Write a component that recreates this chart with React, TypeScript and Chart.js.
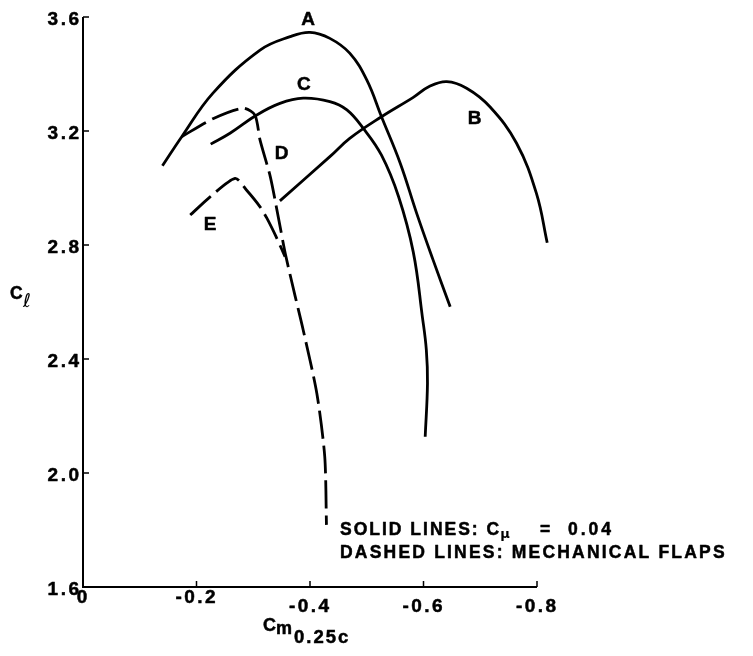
import React, { useEffect, useRef } from "react";
import { Chart, registerables } from "chart.js";

Chart.register(...registerables);

// Axis ticks
const xTickValues = [0, -0.2, -0.4, -0.6, -0.8];
const xTickLabels = ["0", "-0.2", "-0.4", "-0.6", "-0.8"];
const yTickValues = [1.6, 2.0, 2.4, 2.8, 3.2, 3.6];
const yTickLabels = ["1.6", "2.0", "2.4", "2.8", "3.2", "3.6"];

// Curve A (solid)
const curveA_cm = [-0.140, -0.174, -0.229, -0.312, -0.365, -0.400, -0.435, -0.470, -0.500, -0.526, -0.559, -0.588, -0.617, -0.647];
const curveA_cl = [3.078, 3.180, 3.333, 3.484, 3.531, 3.546, 3.525, 3.473, 3.379, 3.250, 3.087, 2.911, 2.747, 2.583];

// Curve B (solid)
const curveB_cm = [-0.347, -0.435, -0.470, -0.526, -0.582, -0.610, -0.641, -0.676, -0.717, -0.764, -0.799, -0.818];
const curveB_cl = [2.955, 3.110, 3.174, 3.250, 3.318, 3.356, 3.373, 3.350, 3.285, 3.157, 2.981, 2.808];

// Curve C (solid)
const curveC_cm = [-0.225, -0.259, -0.306, -0.347, -0.388, -0.435, -0.465, -0.494, -0.526, -0.556, -0.582, -0.598, -0.605, -0.607, -0.603];
const curveC_cl = [3.154, 3.192, 3.256, 3.297, 3.315, 3.303, 3.274, 3.209, 3.115, 2.970, 2.775, 2.548, 2.432, 2.315, 2.127];

// Curve D (dashed)
const curveD_cm = [-0.174, -0.230, -0.282, -0.303, -0.312, -0.330, -0.344, -0.357, -0.374, -0.388, -0.412, -0.426, -0.429];
const curveD_cl = [3.180, 3.244, 3.280, 3.256, 3.168, 3.040, 2.899, 2.765, 2.619, 2.502, 2.280, 2.057, 1.818];

// Curve E (dashed)
const curveE_cm = [-0.189, -0.224, -0.268, -0.288, -0.312, -0.324, -0.340, -0.356];
const curveE_cl = [2.905, 2.969, 3.034, 2.993, 2.934, 2.894, 2.830, 2.759];

// Curve labels
const curveNames = ["A", "B", "C", "D", "E"];
const curveLabelCm = [-0.3965, -0.6899, -0.3894, -0.3501, -0.2238];
const curveLabelCl = [3.595, 3.247, 3.366, 3.124, 2.876];

const FONT = '"Liberation Sans", Arial, Helvetica, sans-serif';

function toPoints(xs: number[], ys: number[]) {
  return xs.map((x, i) => ({ x, y: ys[i] }));
}

function drawSpaced(
  ctx: CanvasRenderingContext2D,
  s: string,
  x: number,
  y: number,
  font: string,
  spacing: number,
  align: "left" | "center" | "right",
  embolden = 0.5
) {
  ctx.font = font;
  const chars = Array.from(s);
  const widths = chars.map((c) => ctx.measureText(c).width);
  const total = widths.reduce((a, b) => a + b, 0) + spacing * (chars.length - 1);
  let cx = align === "left" ? x : align === "center" ? x - total / 2 : x - total;
  ctx.textAlign = "left";
  ctx.textBaseline = "alphabetic";
  ctx.lineWidth = embolden;
  ctx.lineJoin = "round";
  chars.forEach((c, i) => {
    ctx.fillText(c, cx, y);
    if (embolden > 0) ctx.strokeText(c, cx, y);
    cx += widths[i] + spacing;
  });
  return cx - spacing;
}

const decorPlugin = {
  id: "decor",
  afterDraw(chart: any) {
    const ctx: CanvasRenderingContext2D = chart.ctx;
    const xs = chart.scales.x;
    const ys = chart.scales.y;
    const x0 = xs.getPixelForValue(0);
    const x1 = xs.getPixelForValue(-0.8);
    const yb = ys.getPixelForValue(1.6);
    const yt = ys.getPixelForValue(3.6);
    ctx.save();
    ctx.strokeStyle = "#000";
    ctx.fillStyle = "#000";
    // axes
    ctx.lineWidth = 2;
    ctx.beginPath();
    ctx.moveTo(x0, yt);
    ctx.lineTo(x0, yb);
    ctx.lineTo(x1, yb);
    ctx.stroke();
    // ticks
    ctx.lineWidth = 1.5;
    ctx.beginPath();
    yTickValues.forEach((v) => {
      const py = ys.getPixelForValue(v);
      ctx.moveTo(x0, py);
      ctx.lineTo(x0 + 6, py);
    });
    xTickValues.forEach((v) => {
      const px = xs.getPixelForValue(v);
      ctx.moveTo(px, yb);
      ctx.lineTo(px, yb - 6);
    });
    ctx.stroke();
    // tick labels
    const tickFont = `bold 19px ${FONT}`;
    yTickValues.forEach((v, i) => {
      const py = ys.getPixelForValue(v);
      drawSpaced(ctx, yTickLabels[i], x0 - 4, py + 8, tickFont, 2.5, "right");
    });
    xTickValues.forEach((v, i) => {
      const px = xs.getPixelForValue(v);
      const base = i < 2 ? yb + 16 : yb + 25;
      drawSpaced(ctx, xTickLabels[i], px - 1, base, tickFont, 2.5, "center");
    });
    // y title  C_l
    drawSpaced(ctx, "C", 10, 299, `bold 17.5px ${FONT}`, 0, "left");
    ctx.font = 'italic 19px "DejaVu Sans", sans-serif';
    ctx.fillText("\u2113", 23, 307);
    // x title  C_m0.25c
    drawSpaced(ctx, "C", 263, 631, `bold 18px ${FONT}`, 0, "left");
    drawSpaced(ctx, "m", 276, 634, `bold 18px ${FONT}`, 0, "left");
    drawSpaced(ctx, "0.25c", 294, 643, `bold 18.5px ${FONT}`, 2, "left");
    // curve labels
    curveNames.forEach((n, i) => {
      const px = xs.getPixelForValue(curveLabelCm[i]);
      const py = ys.getPixelForValue(curveLabelCl[i]);
      drawSpaced(ctx, n, px, py + 6.8, `bold 19px ${FONT}`, 0, "center");
    });
    // annotation
    const annFont = `bold 17.5px ${FONT}`;
    const end1 = drawSpaced(ctx, "SOLID LINES: C", 340, 535, annFont, 2, "left");
    ctx.font = `bold 13px "DejaVu Sans", sans-serif`;
    ctx.fillText("\u03bc", end1 + 1, 538);
    drawSpaced(ctx, "=", 540, 535, annFont, 0, "left");
    drawSpaced(ctx, "0.04", 568, 535, annFont, 3, "left");
    drawSpaced(ctx, "DASHED LINES: MECHANICAL FLAPS", 340, 558, annFont, 2.2, "left");
    ctx.restore();
  },
};

function makeDataset(xs: number[], ys: number[], dashed: boolean, tension: number) {
  return {
    data: toPoints(xs, ys),
    showLine: true,
    borderColor: "#000",
    backgroundColor: "#000",
    borderWidth: 2.8,
    pointRadius: 0,
    pointHoverRadius: 0,
    borderDash: dashed ? [28, 7] : [],
    tension,
    clip: false as any,
    fill: false,
  };
}

export default function App() {
  const canvasRef = useRef<HTMLCanvasElement | null>(null);

  useEffect(() => {
    if (!canvasRef.current) return;
    const chart = new Chart(canvasRef.current, {
      type: "scatter",
      data: {
        datasets: [
          makeDataset(curveA_cm, curveA_cl, false, 0.4),
          makeDataset(curveB_cm, curveB_cl, false, 0.4),
          makeDataset(curveC_cm, curveC_cl, false, 0.4),
          makeDataset(curveD_cm, curveD_cl, true, 0.25),
          makeDataset(curveE_cm, curveE_cl, true, 0.25),
        ] as any,
      },
      options: {
        animation: false,
        responsive: true,
        maintainAspectRatio: false,
        layout: { padding: { left: 83, right: 216, top: 17, bottom: 69 } },
        plugins: { legend: { display: false }, tooltip: { enabled: false } },
        events: [],
        scales: {
          x: { type: "linear", min: -0.8, max: 0, reverse: true, display: false },
          y: { type: "linear", min: 1.6, max: 3.6, display: false },
        },
      },
      plugins: [decorPlugin],
    });
    return () => chart.destroy();
  }, []);

  return (
    <div style={{ position: "fixed", left: 0, top: 0, width: 753, height: 656, background: "#fff" }}>
      <canvas ref={canvasRef} />
    </div>
  );
}
